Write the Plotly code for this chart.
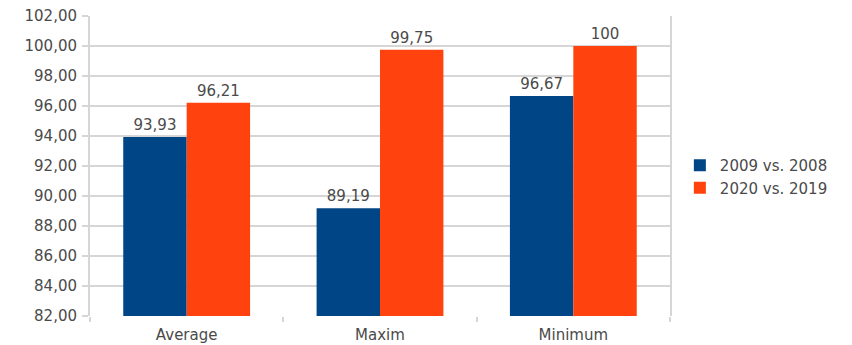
import plotly.graph_objects as go

categories = ["Average", "Maxim", "Minimum"]
series_names = ["2009 vs. 2008", "2020 vs. 2019"]
values_2009 = [93.93, 89.19, 96.67]
values_2020 = [96.21, 99.75, 100]
colors = ["#004586", "#ff420e"]
y_ticks = list(range(82, 103, 2))

FONT = "DejaVu Sans"
TEXT_COLOR = "#4a4a4a"


def label(v):
    # whole numbers are printed plainly, others with a decimal comma
    if float(v).is_integer():
        return str(int(v))
    return f"{v:.2f}".replace(".", ",")


fig = go.Figure()
for name, vals, col in zip(series_names, [values_2009, values_2020], colors):
    fig.add_trace(go.Bar(
        x=categories, y=vals, name=name,
        marker=dict(color=col, line=dict(width=0)),
        text=[label(v) for v in vals], textposition="outside",
        textfont=dict(family=FONT, size=15, color=TEXT_COLOR),
        cliponaxis=False,
    ))

fig.update_layout(
    width=852, height=345,
    margin=dict(l=90, r=182, t=16, b=29),
    paper_bgcolor="white", plot_bgcolor="white",
    barmode="group", bargap=0.344, bargroupgap=0,
    separators=", ",
    font=dict(family=FONT, size=15, color=TEXT_COLOR),
    showlegend=True,
    legend=dict(x=1.017, y=0.465, yanchor="middle", xanchor="left",
                font=dict(family=FONT, size=15, color=TEXT_COLOR),
                itemsizing="constant", tracegroupgap=2),
)
fig.update_yaxes(
    range=[82, 102], tickvals=y_ticks, tickformat=".2f", automargin=False,
    showgrid=True, gridcolor="#d6d6d6", gridwidth=2,
    showline=True, linecolor="#d6d6d6", linewidth=2, mirror=True,
    ticks="outside", ticklen=6, tickcolor="#d6d6d6", tickwidth=2,
    zeroline=False, ticklabelstandoff=2,
)
fig.update_xaxes(
    showline=False, tickson="boundaries", ticks="outside", ticklen=5,
    automargin=False,
    tickcolor="#d6d6d6", tickwidth=2, showgrid=False, ticklabelstandoff=8,
)

fig.write_html("out.html")
